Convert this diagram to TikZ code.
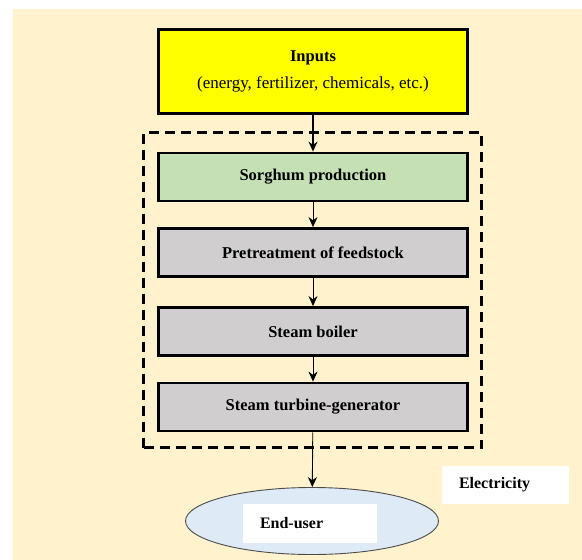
\documentclass[tikz,border=0pt]{standalone}
\usepackage{fontspec}
\setmainfont{Liberation Serif}
\usepackage{xcolor}
\usetikzlibrary{arrows.meta,positioning,shapes.geometric}
\definecolor{bgcream}{HTML}{FFF2CC}
\definecolor{inyellow}{HTML}{FFFF00}
\definecolor{cropgreen}{HTML}{C5E0B4}
\definecolor{procgray}{HTML}{D0CECE}
\definecolor{userblue}{HTML}{DEEBF7}
\begin{document}
\begin{tikzpicture}[x=1pt,y=-1pt,>={Stealth[length=10pt,width=9pt]},
  stage/.style={draw,line width=2.8pt,align=center,font=\bfseries\fontsize{16.5}{19}\selectfont,inner sep=0pt,minimum width=309pt,minimum height=48pt},
  proc/.style={stage,fill=procgray},
  tag/.style={fill=white,inner xsep=17pt,inner ysep=0pt,align=left,font=\bfseries\fontsize{16}{19}\selectfont},
  link/.style={->,line width=0.9pt}]
\useasboundingbox (0,0) rectangle (582,560);
\fill[bgcream] (13,9) rectangle (582,560);
\node[draw,line width=2.2pt,dash pattern=on 10pt off 6pt,minimum width=338pt,minimum height=315pt,inner sep=0pt] (plant) at (312.5,290) {};
\node[stage,fill=inyellow,minimum height=84pt] (in) at (313,71.5) {Inputs\\[8pt]{\mdseries\fontsize{17}{19}\selectfont (energy, fertilizer, chemicals, etc.)}};
\node[stage,fill=cropgreen] (crop) at (313,177) {Sorghum production};
\node[proc] (pre) at (313,252.5) {Pretreatment of feedstock};
\node[proc] (boil) at (313,331.5) {Steam boiler};
\node[proc] (turb) at (313,407) {Steam turbine-generator};
\node[ellipse,draw=black!70,fill=userblue,line width=0.9pt,minimum width=253pt,minimum height=67pt,inner sep=0pt] (user) at (312,521) {};
\node[tag,text width=100pt,minimum height=39pt] (userlbl) at (310,523.5) {End-user};
\node[tag,text width=93pt,minimum height=38pt] (elec) at (505.5,485) {Electricity};
\draw[link,line width=1.4pt] (in) -- (crop);
\draw[link] (crop) -- (pre);
\draw[link] (pre) -- (boil);
\draw[link] (boil) -- (turb);
\draw[link] (turb) -- (user);
\end{tikzpicture}
\end{document}
